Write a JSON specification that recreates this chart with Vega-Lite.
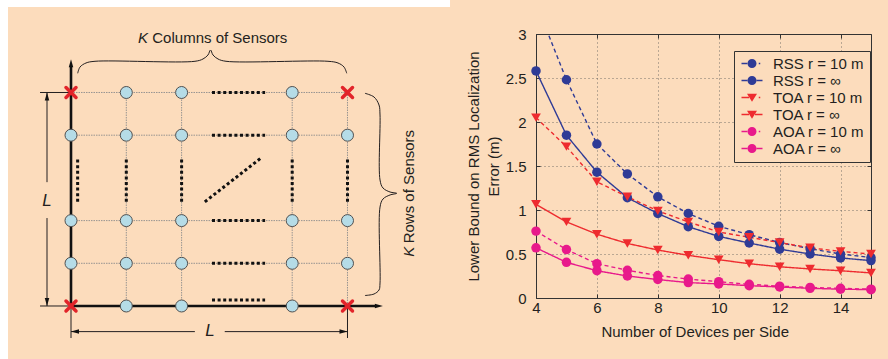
{
  "$schema": "https://vega.github.io/schema/vega-lite/v6.json",
  "width": 335,
  "height": 264,
  "autosize": {"type": "none"},
  "padding": {"left": 536, "top": 34, "right": 17, "bottom": 61},
  "background": "#fcdcbc",
  "config": {"font": "Liberation Sans", "view": {"stroke": null}},
  "datasets": {
    "err": [
      {"n": 4, "series": "RSS r = 10 m", "err": 3.35}, {"n": 5, "series": "RSS r = 10 m", "err": 2.48}, {"n": 6, "series": "RSS r = 10 m", "err": 1.75}, {"n": 7, "series": "RSS r = 10 m", "err": 1.41}, {"n": 8, "series": "RSS r = 10 m", "err": 1.15}, {"n": 9, "series": "RSS r = 10 m", "err": 0.96}, {"n": 10, "series": "RSS r = 10 m", "err": 0.815}, {"n": 11, "series": "RSS r = 10 m", "err": 0.72}, {"n": 12, "series": "RSS r = 10 m", "err": 0.63}, {"n": 13, "series": "RSS r = 10 m", "err": 0.56}, {"n": 14, "series": "RSS r = 10 m", "err": 0.5}, {"n": 15, "series": "RSS r = 10 m", "err": 0.46},
      {"n": 4, "series": "RSS r = ∞", "err": 2.58}, {"n": 5, "series": "RSS r = ∞", "err": 1.85}, {"n": 6, "series": "RSS r = ∞", "err": 1.43}, {"n": 7, "series": "RSS r = ∞", "err": 1.14}, {"n": 8, "series": "RSS r = ∞", "err": 0.96}, {"n": 9, "series": "RSS r = ∞", "err": 0.81}, {"n": 10, "series": "RSS r = ∞", "err": 0.7}, {"n": 11, "series": "RSS r = ∞", "err": 0.625}, {"n": 12, "series": "RSS r = ∞", "err": 0.555}, {"n": 13, "series": "RSS r = ∞", "err": 0.5}, {"n": 14, "series": "RSS r = ∞", "err": 0.455}, {"n": 15, "series": "RSS r = ∞", "err": 0.425},
      {"n": 4, "series": "TOA r = 10 m", "err": 2.05}, {"n": 5, "series": "TOA r = 10 m", "err": 1.72}, {"n": 6, "series": "TOA r = 10 m", "err": 1.32}, {"n": 7, "series": "TOA r = 10 m", "err": 1.15}, {"n": 8, "series": "TOA r = 10 m", "err": 0.99}, {"n": 9, "series": "TOA r = 10 m", "err": 0.865}, {"n": 10, "series": "TOA r = 10 m", "err": 0.75}, {"n": 11, "series": "TOA r = 10 m", "err": 0.69}, {"n": 12, "series": "TOA r = 10 m", "err": 0.63}, {"n": 13, "series": "TOA r = 10 m", "err": 0.57}, {"n": 14, "series": "TOA r = 10 m", "err": 0.53}, {"n": 15, "series": "TOA r = 10 m", "err": 0.5},
      {"n": 4, "series": "TOA r = ∞", "err": 1.065}, {"n": 5, "series": "TOA r = ∞", "err": 0.865}, {"n": 6, "series": "TOA r = ∞", "err": 0.725}, {"n": 7, "series": "TOA r = ∞", "err": 0.62}, {"n": 8, "series": "TOA r = ∞", "err": 0.545}, {"n": 9, "series": "TOA r = ∞", "err": 0.485}, {"n": 10, "series": "TOA r = ∞", "err": 0.435}, {"n": 11, "series": "TOA r = ∞", "err": 0.39}, {"n": 12, "series": "TOA r = ∞", "err": 0.355}, {"n": 13, "series": "TOA r = ∞", "err": 0.33}, {"n": 14, "series": "TOA r = ∞", "err": 0.31}, {"n": 15, "series": "TOA r = ∞", "err": 0.285},
      {"n": 4, "series": "AOA r = 10 m", "err": 0.76}, {"n": 5, "series": "AOA r = 10 m", "err": 0.55}, {"n": 6, "series": "AOA r = 10 m", "err": 0.39}, {"n": 7, "series": "AOA r = 10 m", "err": 0.315}, {"n": 8, "series": "AOA r = 10 m", "err": 0.255}, {"n": 9, "series": "AOA r = 10 m", "err": 0.215}, {"n": 10, "series": "AOA r = 10 m", "err": 0.185}, {"n": 11, "series": "AOA r = 10 m", "err": 0.155}, {"n": 12, "series": "AOA r = 10 m", "err": 0.135}, {"n": 13, "series": "AOA r = 10 m", "err": 0.12}, {"n": 14, "series": "AOA r = 10 m", "err": 0.11}, {"n": 15, "series": "AOA r = 10 m", "err": 0.1},
      {"n": 4, "series": "AOA r = ∞", "err": 0.57}, {"n": 5, "series": "AOA r = ∞", "err": 0.405}, {"n": 6, "series": "AOA r = ∞", "err": 0.31}, {"n": 7, "series": "AOA r = ∞", "err": 0.25}, {"n": 8, "series": "AOA r = ∞", "err": 0.21}, {"n": 9, "series": "AOA r = ∞", "err": 0.175}, {"n": 10, "series": "AOA r = ∞", "err": 0.16}, {"n": 11, "series": "AOA r = ∞", "err": 0.14}, {"n": 12, "series": "AOA r = ∞", "err": 0.125}, {"n": 13, "series": "AOA r = ∞", "err": 0.11}, {"n": 14, "series": "AOA r = ∞", "err": 0.1}, {"n": 15, "series": "AOA r = ∞", "err": 0.095}
    ],
    "strips": [
      {"u": -1.6, "u2": 6.854, "v": 7.002, "v2": 7.6},
      {"u": -1.6, "u2": -1.139, "v": -1.6, "v2": 7.6}
    ],
    "grid": [
      {"u": 0, "u2": 5, "v": 5, "v2": 5}, {"u": 0, "u2": 5, "v": 4, "v2": 4}, {"u": 0, "u2": 5, "v": 2, "v2": 2}, {"u": 0, "u2": 5, "v": 1, "v2": 1},
      {"u": 1, "u2": 1, "v": 0, "v2": 5}, {"u": 2, "u2": 2, "v": 0, "v2": 5}, {"u": 4, "u2": 4, "v": 0, "v2": 5}, {"u": 5, "u2": 5, "v": 0, "v2": 5}
    ],
    "dims": [
      {"u": -0.56, "u2": 0, "v": 5, "v2": 5}, {"u": -0.56, "u2": 0, "v": 0, "v2": 0},
      {"u": 0, "u2": 0, "v": 0, "v2": -0.75}, {"u": 5, "u2": 5, "v": 0, "v2": -0.75},
      {"u": -0.434, "u2": -0.434, "v": 0, "v2": 2.06}, {"u": -0.434, "u2": -0.434, "v": 2.9, "v2": 5},
      {"u": 0, "u2": 2.24, "v": -0.6, "v2": -0.6}, {"u": 2.78, "u2": 5, "v": -0.6, "v2": -0.6}
    ],
    "axes": [
      {"u": 0, "u2": 0, "v": 0, "v2": 5.62}, {"u": 0, "u2": 5.5, "v": 0, "v2": 0}
    ],
    "dots": [
      {"u": 2.55, "u2": 3.51, "v": 5, "v2": 5}, {"u": 2.55, "u2": 3.51, "v": 4, "v2": 4}, {"u": 2.55, "u2": 3.51, "v": 2, "v2": 2}, {"u": 2.55, "u2": 3.51, "v": 1, "v2": 1}, {"u": 2.55, "u2": 3.51, "v": 0.14, "v2": 0.14},
      {"u": 0.12, "u2": 0.12, "v": 2.44, "v2": 3.49}, {"u": 1, "u2": 1, "v": 2.44, "v2": 3.49}, {"u": 2, "u2": 2, "v": 2.44, "v2": 3.49}, {"u": 4, "u2": 4, "v": 2.44, "v2": 3.49}, {"u": 5, "u2": 5, "v": 2.44, "v2": 3.49},
      {"u": 2.42, "u2": 3.44, "v": 2.44, "v2": 3.47}
    ],
    "braces": [
      {"b": "top", "i": 0, "u": 0.121, "v": 5.45}, {"b": "top", "i": 1, "u": 0.163, "v": 5.597}, {"b": "top", "i": 2, "u": 0.271, "v": 5.691}, {"b": "top", "i": 3, "u": 0.434, "v": 5.731}, {"b": "top", "i": 4, "u": 2.242, "v": 5.731}, {"b": "top", "i": 5, "u": 2.387, "v": 5.785}, {"b": "top", "i": 6, "u": 2.477, "v": 5.878}, {"b": "top", "i": 7, "u": 2.523, "v": 5.995}, {"b": "top", "i": 8, "u": 2.568, "v": 5.878}, {"b": "top", "i": 9, "u": 2.658, "v": 5.785}, {"b": "top", "i": 10, "u": 2.803, "v": 5.731}, {"b": "top", "i": 11, "u": 4.647, "v": 5.731}, {"b": "top", "i": 12, "u": 4.828, "v": 5.691}, {"b": "top", "i": 13, "u": 4.937, "v": 5.597}, {"b": "top", "i": 14, "u": 4.986, "v": 5.45},
      {"b": "right", "i": 0, "u": 5.316, "v": 4.981}, {"b": "right", "i": 1, "u": 5.479, "v": 4.895}, {"b": "right", "i": 2, "u": 5.57, "v": 4.707}, {"b": "right", "i": 3, "u": 5.588, "v": 4.473}, {"b": "right", "i": 4, "u": 5.588, "v": 2.951}, {"b": "right", "i": 5, "u": 5.642, "v": 2.763}, {"b": "right", "i": 6, "u": 5.769, "v": 2.67}, {"b": "right", "i": 7, "u": 5.89, "v": 2.639}, {"b": "right", "i": 8, "u": 5.769, "v": 2.6}, {"b": "right", "i": 9, "u": 5.642, "v": 2.506}, {"b": "right", "i": 10, "u": 5.588, "v": 2.318}, {"b": "right", "i": 11, "u": 5.588, "v": 0.539}, {"b": "right", "i": 12, "u": 5.57, "v": 0.375}, {"b": "right", "i": 13, "u": 5.479, "v": 0.281}, {"b": "right", "i": 14, "u": 5.316, "v": 0.246}
    ],
    "arrows": [
      {"u": 0, "v": 5.78, "dir": "up"}, {"u": 5.64, "v": 0, "dir": "right"},
      {"u": -0.434, "v": 5, "dir": "up"}, {"u": -0.434, "v": 0, "dir": "down"},
      {"u": 0, "v": -0.6, "dir": "left"}, {"u": 5, "v": -0.6, "dir": "right"}
    ],
    "sensors": [
      {"u": 1, "v": 5}, {"u": 2, "v": 5}, {"u": 4, "v": 5},
      {"u": 0, "v": 4}, {"u": 1, "v": 4}, {"u": 2, "v": 4}, {"u": 4, "v": 4}, {"u": 5, "v": 4},
      {"u": 0, "v": 2}, {"u": 1, "v": 2}, {"u": 2, "v": 2}, {"u": 4, "v": 2}, {"u": 5, "v": 2},
      {"u": 0, "v": 1}, {"u": 1, "v": 1}, {"u": 2, "v": 1}, {"u": 4, "v": 1}, {"u": 5, "v": 1},
      {"u": 1, "v": 0}, {"u": 2, "v": 0}, {"u": 4, "v": 0}
    ],
    "corners": [
      {"u": 0, "v": 0}, {"u": 0, "v": 5}, {"u": 5, "v": 0}, {"u": 5, "v": 5}
    ],
    "texts": [
      {"u": -0.434, "v": 2.47, "text": "L", "kind": "L"},
      {"u": 2.514, "v": -0.59, "text": "L", "kind": "L"},
      {"u": 1.392, "v": 6.283, "text": "K", "kind": "Kh"},
      {"u": 1.47, "v": 6.283, "text": "Columns of Sensors", "kind": "h"},
      {"u": 6.118, "v": 1.389, "text": "K", "kind": "Kv"},
      {"u": 6.118, "v": 1.468, "text": "Rows of Sensors", "kind": "v"}
    ]
  },
  "layer": [
    {
      "data": {"name": "err"},
      "layer": [
        {
          "mark": {"type": "line", "strokeWidth": 1.4, "clip": true},
          "encoding": {
            "x": {"field": "n", "type": "quantitative", "scale": {"domain": [4, 15], "nice": false, "zero": false},
              "axis": {"orient": "bottom", "values": [4, 6, 8, 10, 12, 14], "grid": true, "gridDash": [1, 3], "gridColor": "#555555", "gridWidth": 0.8, "tickSize": -4, "tickColor": "#333333", "domainColor": "#333333", "labelPadding": 6, "labelFontSize": 15, "labelColor": "#231f20", "labelFlush": false, "title": "Number of Devices per Side", "titleFontSize": 15, "titleFontWeight": "normal", "titleColor": "#231f20", "titlePadding": 9, "titleX": 158.7}},
            "y": {"field": "err", "type": "quantitative", "scale": {"domain": [0, 3], "nice": false, "zero": false},
              "axis": {"orient": "left", "values": [0, 0.5, 1, 1.5, 2, 2.5, 3], "format": "~g", "grid": true, "gridDash": [1, 3], "gridColor": "#555555", "gridWidth": 0.8, "tickSize": -4, "tickColor": "#333333", "domainColor": "#333333", "labelPadding": 14, "labelFontSize": 15, "labelColor": "#231f20", "labelFlush": false, "title": ["Lower Bound on RMS Localization", "Error (m)"], "titleFontSize": 15, "titleFontWeight": "normal", "titleColor": "#231f20", "titleLineHeight": 20, "titlePadding": 4}},
            "color": {"field": "series", "type": "nominal",
              "scale": {"domain": ["RSS r = 10 m", "RSS r = ∞", "TOA r = 10 m", "TOA r = ∞", "AOA r = 10 m", "AOA r = ∞"], "range": ["#2f3b96", "#2f3b96", "#ee2b2f", "#ee2b2f", "#e8198b", "#e8198b"]},
              "legend": {"title": null, "orient": "none", "legendX": 198, "legendY": 17, "strokeColor": "#333333", "fillColor": "#fcdcbc", "padding": 5, "labelFontSize": 15, "labelColor": "#231f20", "symbolSize": 100, "symbolStrokeWidth": 0, "rowPadding": 1, "labelOffset": 19,
                "encoding": {"symbols": {
                  "shape": {"value": {"expr": "indexof(datum.value,'TOA')>=0 ? (indexof(datum.value,'10')>=0 ? 'M-1,-0.15L0.5,-0.15L0.5,0.15L-1,0.15ZM2.45,-0.15L2.75,-0.15L2.75,0.15L2.45,0.15ZM0.1,-0.75L2.1,-0.75L1.1,0.85Z' : 'M-1,-0.15L0.5,-0.15L0.5,0.15L-1,0.15ZM1.7,-0.15L3.2,-0.15L3.2,0.15L1.7,0.15ZM0.1,-0.75L2.1,-0.75L1.1,0.85Z') : (indexof(datum.value,'10')>=0 ? 'M-1,-0.15L0.15,-0.15L0.15,0.15L-1,0.15ZM2.45,-0.15L2.75,-0.15L2.75,0.15L2.45,0.15ZM0.2,0A0.9,0.9,0,1,0,2,0A0.9,0.9,0,1,0,0.2,0Z' : 'M-1,-0.15L0.25,-0.15L0.25,0.15L-1,0.15ZM1.95,-0.15L3.2,-0.15L3.2,0.15L1.95,0.15ZM0.2,0A0.9,0.9,0,1,0,2,0A0.9,0.9,0,1,0,0.2,0Z')"}},
                  "fill": {"value": {"expr": "indexof(datum.value,'RSS')>=0 ? '#2f3b96' : indexof(datum.value,'TOA')>=0 ? '#ee2b2f' : '#e8198b'"}},
                  "strokeWidth": {"value": 0},
                  "opacity": {"value": 1},
                  "fillOpacity": {"value": 1}
                }}}},
            "strokeDash": {"field": "series", "type": "nominal",
              "scale": {"domain": ["RSS r = 10 m", "RSS r = ∞", "TOA r = 10 m", "TOA r = ∞", "AOA r = 10 m", "AOA r = ∞"], "range": [[4, 3], [1, 0], [4, 3], [1, 0], [4, 3], [1, 0]]},
              "legend": null}
          }
        },
        {
          "transform": [{"filter": "indexof(datum.series, 'TOA') < 0 && datum.err <= 3"}],
          "mark": {"type": "point", "shape": "circle", "filled": true, "size": 90, "opacity": 1},
          "encoding": {
            "x": {"field": "n", "type": "quantitative", "scale": {"domain": [4, 15], "nice": false, "zero": false},
              "axis": {"orient": "top", "values": [4, 6, 8, 10, 12, 14], "labels": false, "grid": false, "ticks": true, "tickSize": -4, "tickColor": "#333333", "domainColor": "#333333", "title": null}},
            "y": {"field": "err", "type": "quantitative", "scale": {"domain": [0, 3], "nice": false, "zero": false},
              "axis": {"orient": "right", "values": [0, 0.5, 1, 1.5, 2, 2.5, 3], "labels": false, "grid": false, "ticks": true, "tickSize": -4, "tickColor": "#333333", "domainColor": "#333333", "title": null}},
            "color": {"field": "series", "type": "nominal",
              "scale": {"domain": ["RSS r = 10 m", "RSS r = ∞", "TOA r = 10 m", "TOA r = ∞", "AOA r = 10 m", "AOA r = ∞"], "range": ["#2f3b96", "#2f3b96", "#ee2b2f", "#ee2b2f", "#e8198b", "#e8198b"]},
              "legend": null}
          }
        },
        {
          "transform": [{"filter": "indexof(datum.series, 'TOA') >= 0 && datum.err <= 3"}],
          "mark": {"type": "point", "shape": "triangle-down", "filled": true, "size": 95, "opacity": 1},
          "encoding": {
            "x": {"field": "n", "type": "quantitative", "scale": {"domain": [4, 15], "nice": false, "zero": false}, "axis": null},
            "y": {"field": "err", "type": "quantitative", "scale": {"domain": [0, 3], "nice": false, "zero": false}, "axis": null},
            "color": {"field": "series", "type": "nominal",
              "scale": {"domain": ["RSS r = 10 m", "RSS r = ∞", "TOA r = 10 m", "TOA r = ∞", "AOA r = 10 m", "AOA r = ∞"], "range": ["#2f3b96", "#2f3b96", "#ee2b2f", "#ee2b2f", "#e8198b", "#e8198b"]},
              "legend": null}
          }
        }
      ],
      "resolve": {"axis": {"x": "independent", "y": "independent"}}
    },
    {
      "encoding": {
        "x": {"field": "u", "type": "quantitative", "scale": {"domain": [8.4087, 14.4666], "nice": false, "zero": false}, "axis": null},
        "y": {"field": "v", "type": "quantitative", "scale": {"domain": [0.18735, 6.37], "nice": false, "zero": false}, "axis": null}
      },
      "layer": [
        {"data": {"name": "strips"}, "mark": {"type": "rect", "color": "#ffffff"}, "encoding": {"x2": {"field": "u2"}, "y2": {"field": "v2"}}},
        {"data": {"name": "grid"}, "mark": {"type": "rule", "color": "#8c8c8c", "strokeWidth": 0.9, "strokeDash": [1.5, 1]}, "encoding": {"x2": {"field": "u2"}, "y2": {"field": "v2"}}},
        {"data": {"name": "dims"}, "mark": {"type": "rule", "color": "#231f20", "strokeWidth": 1}, "encoding": {"x2": {"field": "u2"}, "y2": {"field": "v2"}}},
        {"data": {"name": "axes"}, "mark": {"type": "rule", "color": "#111111", "strokeWidth": 2.6}, "encoding": {"x2": {"field": "u2"}, "y2": {"field": "v2"}}},
        {"data": {"name": "dots"}, "mark": {"type": "rule", "color": "#111111", "strokeWidth": 3, "strokeDash": [3, 2.6], "strokeCap": "butt"}, "encoding": {"x2": {"field": "u2"}, "y2": {"field": "v2"}}},
        {"data": {"name": "braces"}, "mark": {"type": "line", "color": "#231f20", "strokeWidth": 1, "interpolate": "catmull-rom"}, "encoding": {"detail": {"field": "b", "type": "nominal"}, "order": {"field": "i", "type": "quantitative"}}},
        {"data": {"name": "arrows"}, "transform": [{"filter": "datum.dir == 'up'"}], "mark": {"type": "point", "shape": "M0,0L0.45,1.6L-0.45,1.6Z", "filled": true, "color": "#111111", "size": 100, "opacity": 1}},
        {"data": {"name": "arrows"}, "transform": [{"filter": "datum.dir == 'down'"}], "mark": {"type": "point", "shape": "M0,0L0.45,-1.6L-0.45,-1.6Z", "filled": true, "color": "#111111", "size": 100, "opacity": 1}},
        {"data": {"name": "arrows"}, "transform": [{"filter": "datum.dir == 'left'"}], "mark": {"type": "point", "shape": "M0,0L1.6,0.45L1.6,-0.45Z", "filled": true, "color": "#111111", "size": 100, "opacity": 1}},
        {"data": {"name": "arrows"}, "transform": [{"filter": "datum.dir == 'right'"}], "mark": {"type": "point", "shape": "M0,0L-1.6,0.45L-1.6,-0.45Z", "filled": true, "color": "#111111", "size": 100, "opacity": 1}},
        {"data": {"name": "sensors"}, "mark": {"type": "point", "shape": "circle", "filled": true, "fill": "#b5dce7", "stroke": "#505050", "strokeWidth": 1, "size": 144, "opacity": 1}},
        {"data": {"name": "corners"}, "mark": {"type": "point", "shape": "M-1,-1L1,1M1,-1L-1,1", "filled": false, "stroke": "#e2242a", "strokeWidth": 3.5, "strokeCap": "round", "size": 100, "opacity": 1}},
        {"data": {"name": "texts"}, "transform": [{"filter": "datum.kind == 'L'"}], "mark": {"type": "text", "fontSize": 17, "fontStyle": "italic", "align": "center", "baseline": "middle", "color": "#231f20"}, "encoding": {"text": {"field": "text"}}},
        {"data": {"name": "texts"}, "transform": [{"filter": "datum.kind == 'Kh'"}], "mark": {"type": "text", "fontSize": 15, "fontStyle": "italic", "align": "right", "baseline": "middle", "color": "#231f20"}, "encoding": {"text": {"field": "text"}}},
        {"data": {"name": "texts"}, "transform": [{"filter": "datum.kind == 'h'"}], "mark": {"type": "text", "fontSize": 15, "align": "left", "baseline": "middle", "color": "#231f20"}, "encoding": {"text": {"field": "text"}}},
        {"data": {"name": "texts"}, "transform": [{"filter": "datum.kind == 'Kv'"}], "mark": {"type": "text", "fontSize": 15, "fontStyle": "italic", "align": "right", "baseline": "middle", "angle": 270, "color": "#231f20"}, "encoding": {"text": {"field": "text"}}},
        {"data": {"name": "texts"}, "transform": [{"filter": "datum.kind == 'v'"}], "mark": {"type": "text", "fontSize": 15, "align": "left", "baseline": "middle", "angle": 270, "color": "#231f20"}, "encoding": {"text": {"field": "text"}}}
      ]
    }
  ],
  "resolve": {"scale": {"x": "independent", "y": "independent"}}
}
